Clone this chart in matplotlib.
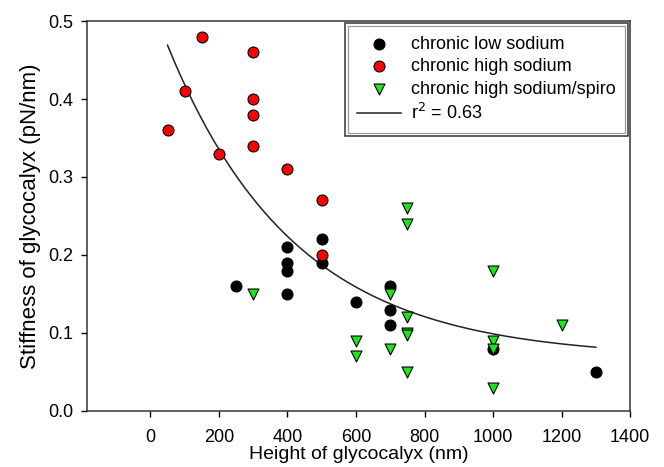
import numpy as np
import matplotlib
matplotlib.use("Agg")
import matplotlib.pyplot as plt
from matplotlib.patches import Rectangle

plt.rcParams['font.family'] = ['Liberation Sans', 'DejaVu Sans']

# chronic low sodium
low_x = [250, 400, 400, 400, 400, 500, 500, 600, 700, 700, 700, 1000, 1300]
low_y = [0.16, 0.21, 0.19, 0.18, 0.15, 0.22, 0.19, 0.14, 0.16, 0.13, 0.11, 0.08, 0.05]

# chronic high sodium
high_x = [50, 100, 150, 200, 300, 300, 300, 300, 400, 500, 500]
high_y = [0.36, 0.41, 0.48, 0.33, 0.46, 0.40, 0.38, 0.34, 0.31, 0.27, 0.20]

# chronic high sodium/spiro
spiro_x = [300, 600, 600, 700, 700, 750, 750, 750, 750, 750, 750, 1000, 1000, 1000, 1000, 1200]
spiro_y = [0.15, 0.09, 0.07, 0.15, 0.08, 0.26, 0.24, 0.12, 0.10, 0.098, 0.05, 0.18, 0.09, 0.08, 0.03, 0.11]

# exponential decay fit: y = c + a*exp(-b*x)
fit_c, fit_a, fit_b = 0.068, 0.459, 0.0027
fit_range = (50, 1300)

fig = plt.figure(figsize=(6.64, 4.67), dpi=100)
ax = fig.add_axes([0.131, 0.12, 0.818, 0.835])

ax.scatter(low_x, low_y, s=62, c='black', edgecolors='black', linewidths=0.8,
           label='chronic low sodium', zorder=3)
ax.scatter(high_x, high_y, s=62, c='#ff0000', edgecolors='black', linewidths=0.8,
           label='chronic high sodium', zorder=3)
ax.scatter(spiro_x, spiro_y, s=62, marker='v', c='#1ee61e', edgecolors='black', linewidths=0.8,
           label='chronic high sodium/spiro', zorder=3)

xf = np.linspace(fit_range[0], fit_range[1], 200)
ax.plot(xf, fit_c + fit_a * np.exp(-fit_b * xf), color='#222222', lw=1.1,
        label='r$^2$ = 0.63', zorder=2)

ax.set_xlim(-185, 1400)
ax.set_ylim(0, 0.5)
ax.set_xticks(range(0, 1401, 200))
ax.set_yticks(np.arange(0, 0.51, 0.1))
ax.set_yticklabels([f'{v:.1f}' for v in np.arange(0, 0.51, 0.1)])
ax.tick_params(direction='out', length=4, width=1, labelsize=13)
ax.tick_params(axis='x', pad=9)
ax.tick_params(axis='y', pad=6)
for s in ax.spines.values():
    s.set_linewidth(1.1)
    s.set_color('#333333')

ax.set_xlabel('Height of glycocalyx (nm)', fontsize=14, labelpad=0)
ax.set_ylabel('Stiffness of glycocalyx (pN/nm)', fontsize=16, labelpad=5)

leg = ax.legend(loc='upper right', fontsize=13, frameon=True, fancybox=False,
                borderaxespad=0.12, handlelength=2.4, handletextpad=0.55,
                labelspacing=0.3, borderpad=0.7, framealpha=1)
leg.get_frame().set_edgecolor('#333333')
leg.get_frame().set_linewidth(1.1)

# inner line of the double legend frame
fig.canvas.draw()
bb = leg.get_window_extent().transformed(fig.transFigure.inverted())
dx, dy = 3 / 664, 3 / 467
fig.add_artist(Rectangle((bb.x0 + dx, bb.y0 + dy), bb.width - 2 * dx, bb.height - 2 * dy,
                         transform=fig.transFigure, fill=False, ec='#999999', lw=0.9, zorder=10))

fig.savefig('out.png', dpi=100)
